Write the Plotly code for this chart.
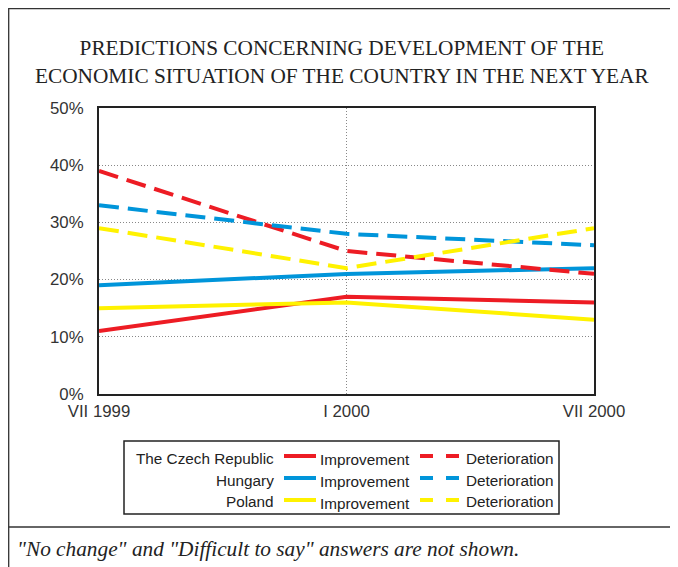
import plotly.graph_objects as go

# data
periods = ["VII 1999", "I 2000", "VII 2000"]
countries = ["The Czech Republic", "Hungary", "Poland"]
colors = ["#ED1C24", "#0095DA", "#FFF200"]
improvement = {
    "The Czech Republic": [11, 17, 16],
    "Hungary": [19, 21, 22],
    "Poland": [15, 16, 13],
}
deterioration = {
    "The Czech Republic": [39, 25, 21],
    "Hungary": [33, 28, 26],
    "Poland": [29, 22, 29],
}
y_ticks = [0, 10, 20, 30, 40, 50]

# page body adds an 8px margin, so the figure is drawn 8px in
OFF = 8
W, H = 678 - OFF, 567 - OFF
L, R, T, B = 99, 594, 108, 394  # plot area in page pixels


def px(x):
    return (x - L) / (R - L)


def py(y):
    return (B - y) / (B - T)


fig = go.Figure()

for c, col in zip(countries, colors):
    fig.add_trace(go.Scatter(x=periods, y=improvement[c], mode="lines",
                             line=dict(color=col, width=4), name=c + " improvement"))
for c, col in zip(countries, colors):
    fig.add_trace(go.Scatter(x=periods, y=deterioration[c], mode="lines",
                             line=dict(color=col, width=4, dash="20px,9px"),
                             name=c + " deterioration"))

shapes = []
annotations = []

# outer frame and footer separator
shapes.append(dict(type="rect", xref="paper", yref="paper",
                   x0=px(8.7), x1=px(673), y0=py(590), y1=py(8.7),
                   line=dict(color="#333", width=1.3)))
shapes.append(dict(type="line", xref="paper", yref="paper",
                   x0=px(8.7), x1=px(673), y0=py(527), y1=py(527),
                   line=dict(color="#333", width=1.3)))

# legend box
shapes.append(dict(type="rect", xref="paper", yref="paper",
                   x0=px(124), x1=px(559), y0=py(514), y1=py(441),
                   line=dict(color="#222", width=1.5)))
rows_y = [458, 480, 502]
for c, col, ry in zip(countries, colors, rows_y):
    annotations.append(dict(text=c, xref="paper", yref="paper", x=px(276), y=py(ry),
                            xanchor="right", yanchor="middle", showarrow=False,
                            font=dict(size=15.3, color="#222")))
    shapes.append(dict(type="line", xref="paper", yref="paper",
                       x0=px(284), x1=px(316), y0=py(ry - 2), y1=py(ry - 2),
                       line=dict(color=col, width=4)))
    annotations.append(dict(text="Improvement", xref="paper", yref="paper", x=px(318), y=py(ry + 1),
                            xanchor="left", yanchor="middle", showarrow=False,
                            font=dict(size=15.3, color="#222")))
    shapes.append(dict(type="line", xref="paper", yref="paper",
                       x0=px(420), x1=px(433), y0=py(ry - 2), y1=py(ry - 2),
                       line=dict(color=col, width=4)))
    shapes.append(dict(type="line", xref="paper", yref="paper",
                       x0=px(446), x1=px(459), y0=py(ry - 2), y1=py(ry - 2),
                       line=dict(color=col, width=4)))
    annotations.append(dict(text="Deterioration", xref="paper", yref="paper", x=px(464), y=py(ry),
                            xanchor="left", yanchor="middle", showarrow=False,
                            font=dict(size=15.3, color="#222")))

# title
annotations.append(dict(
    text="PREDICTIONS CONCERNING DEVELOPMENT OF THE<br>ECONOMIC SITUATION OF THE COUNTRY IN THE NEXT YEAR",
    xref="paper", yref="paper", x=px(342), y=py(62), xanchor="center", yanchor="middle",
    showarrow=False, font=dict(family="Liberation Serif", size=21.3, color="#222")))

# footer
annotations.append(dict(
    text="<i>\"No change\" and \"Difficult to say\" answers are not shown.</i>",
    xref="paper", yref="paper", x=px(15), y=py(549), xanchor="left", yanchor="middle",
    showarrow=False, font=dict(family="Liberation Serif", size=21.3, color="#222")))

fig.update_layout(
    width=W, height=H,
    margin=dict(l=L - OFF, r=W - (R - OFF), t=T - OFF, b=H - (B - OFF)),
    paper_bgcolor="white", plot_bgcolor="white",
    showlegend=False,
    font=dict(family="Liberation Sans, Arial", size=16.8, color="#333"),
    shapes=shapes, annotations=annotations,
    xaxis=dict(type="category", range=[0, 2], showgrid=True, gridcolor="#888",
               griddash="1px,2px", gridwidth=1, showline=True, linecolor="#222",
               linewidth=2, mirror=True, ticks="", ticklabelstandoff=1,
               zeroline=False, fixedrange=True),
    yaxis=dict(range=[0, 50], tickvals=y_ticks, ticktext=[f"{v}%" for v in y_ticks],
               showgrid=True, gridcolor="#888", griddash="1px,2px", gridwidth=1,
               showline=True, linecolor="#222", linewidth=2, mirror=True,
               ticks="", ticklabelstandoff=10, zeroline=False, fixedrange=True),
)

fig.write_html("out.html")
